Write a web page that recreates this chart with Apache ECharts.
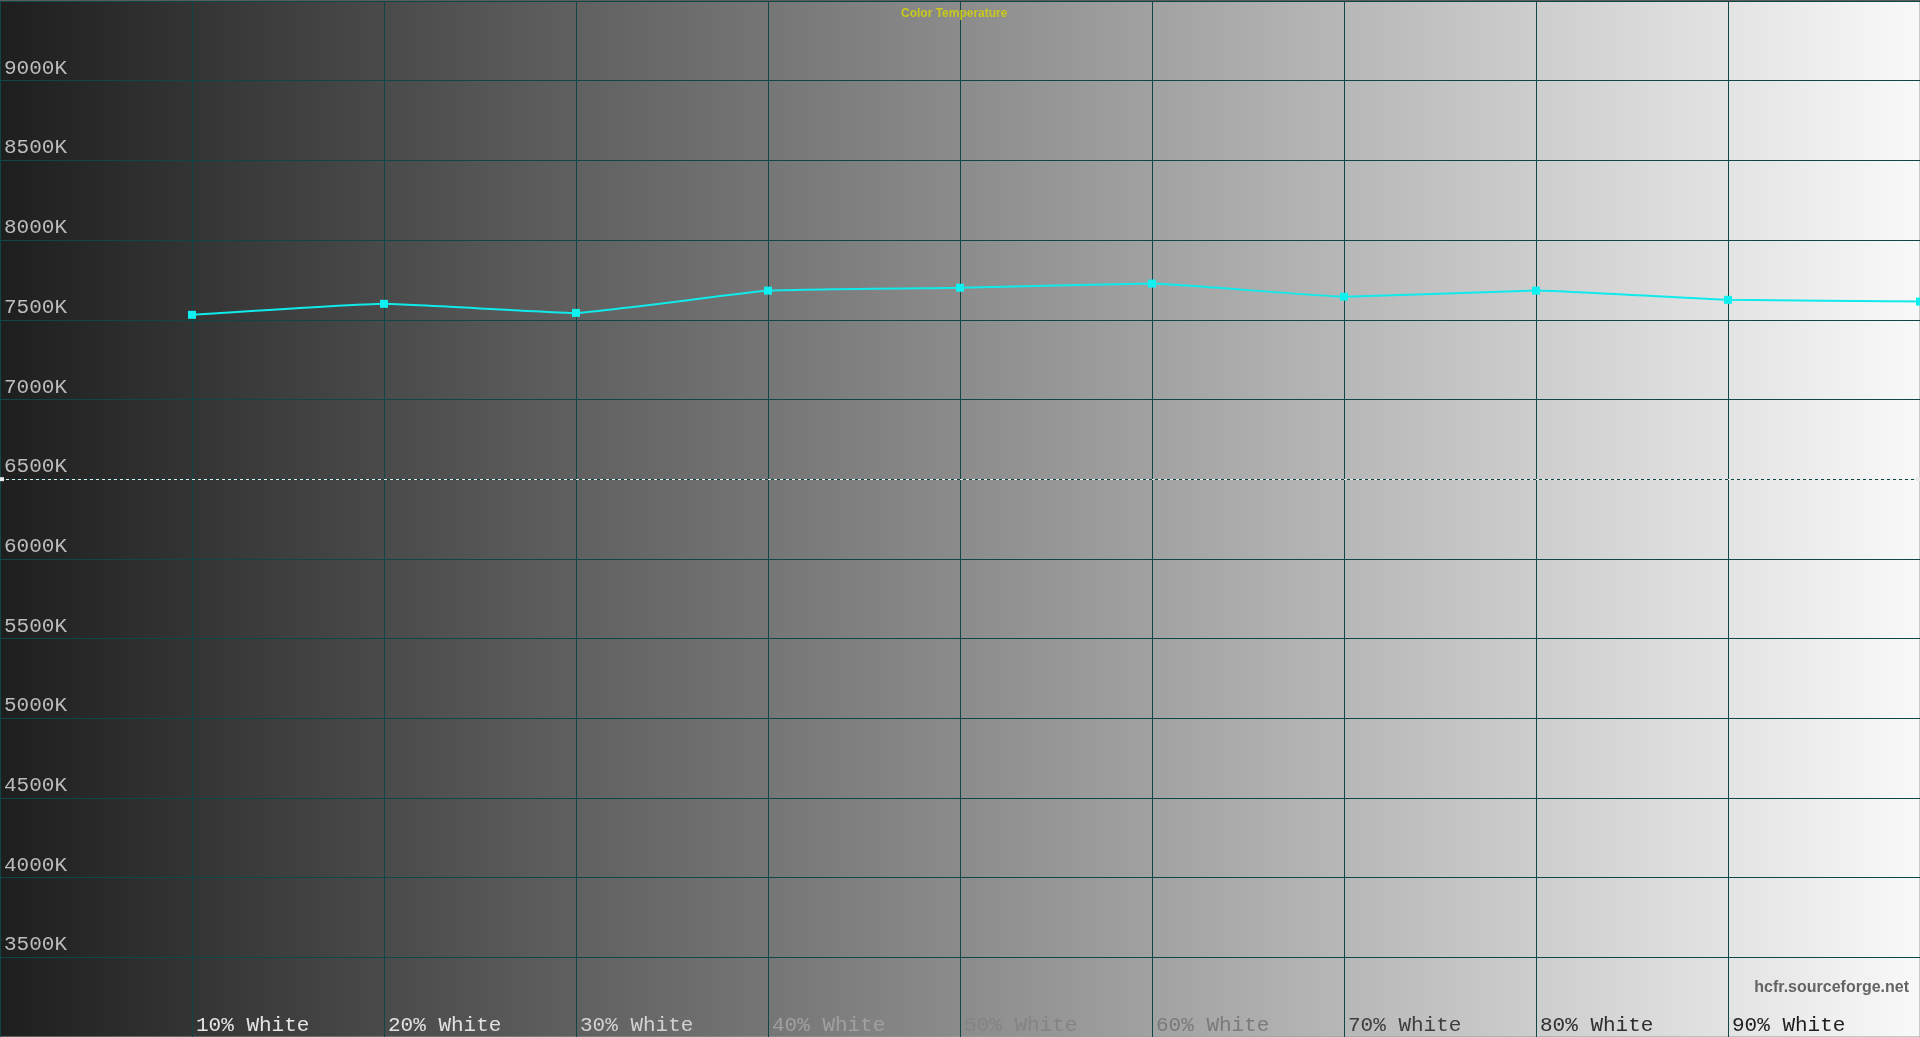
<!DOCTYPE html>
<html>
<head>
<meta charset="utf-8">
<title>Color Temperature</title>
<script src="https://cdn.jsdelivr.net/npm/echarts@6/dist/echarts.min.js"></script>
<style>
html, body { margin: 0; padding: 0; overflow: hidden; background: #1e1e1e; }
</style>
</head>
<body>
<div id="main" style="width:1920px;height:1037px"></div>
<script type="text/javascript">
var levels = [10, 20, 30, 40, 50, 60, 70, 80, 90, 100];
var colorTemp = [7531, 7600, 7543, 7683, 7701, 7727, 7645, 7683, 7625, 7614];
var targetTemp = 6500;

// label colours per tick, they fade against the grey background
var tickLevels = [10, 20, 30, 40, 50, 60, 70, 80, 90];
var tickColors = ['#e6e6e6', '#e2e2e2', '#d2d2d2', '#a0a0a0', '#848484', '#7a7a7a', '#3e3e3e', '#2e2e2e', '#1e1e1e'];

var points = [];
for (var i = 0; i < levels.length; i++) {
    points.push([levels[i], colorTemp[i]]);
}

var myChart = echarts.init(document.getElementById('main'));

var monoFont = "'Courier New', 'Liberation Mono', monospace";

option = {
    animation: false,
    title: {
        text: 'Color Temperature',
        left: 896,
        top: 3,
        textStyle: {
            color: '#c8c81e',
            fontSize: 12,
            fontWeight: 'bold',
            fontFamily: "Arial, 'Liberation Sans', sans-serif"
        }
    },
    graphic: [{
        type: 'text',
        right: 11,
        top: 980,
        style: {
            text: 'hcfr.sourceforge.net',
            fill: '#646464',
            fontSize: 16,
            fontWeight: 'bold',
            fontFamily: "Arial, 'Liberation Sans', sans-serif"
        }
    }],
    grid: {
        left: 0,
        right: 0,
        top: 1,
        bottom: -2,
        show: true,
        borderColor: '#9a9a9a',
        borderWidth: 1,
        backgroundColor: new echarts.graphic.LinearGradient(0, 0, 1, 0, [
            { offset: 0, color: '#1e1e1e' },
            { offset: 1, color: '#f9f9f9' }
        ])
    },
    xAxis: {
        type: 'value',
        min: 0,
        max: 100,
        interval: 10,
        axisLine: { show: false },
        axisTick: { show: false },
        splitLine: { show: true, lineStyle: { color: '#0f4646', width: 1 } },
        axisLabel: {
            inside: true,
            showMinLabel: false,
            showMaxLabel: false,
            align: 'left',
            verticalAlign: 'bottom',
            margin: 1,
            padding: [0, 0, 0, 4],
            fontSize: 21,
            fontFamily: monoFont,
            formatter: function (v) { return v + '% White'; },
            color: function (v) {
                var k = tickLevels.indexOf(+v);
                return k >= 0 ? tickColors[k] : '#888';
            }
        }
    },
    yAxis: {
        type: 'value',
        min: 3000,
        max: 9500,
        interval: 500,
        axisLine: { show: false },
        axisTick: { show: false },
        splitLine: { show: true, lineStyle: { color: '#0f4646', width: 1 } },
        axisLabel: {
            inside: true,
            showMinLabel: false,
            showMaxLabel: false,
            align: 'left',
            verticalAlign: 'bottom',
            margin: 4,
            padding: [0, 0, 2, 0],
            fontSize: 21,
            fontFamily: monoFont,
            color: '#bcbcbc',
            formatter: function (v) { return v + 'K'; }
        }
    },
    series: [{
        name: 'Color Temperature',
        type: 'line',
        data: points,
        smooth: 0.1,
        symbol: 'rect',
        symbolSize: 8,
        clip: false,
        lineStyle: { color: '#10eaea', width: 2 },
        itemStyle: { color: '#10f0f0' },
        markLine: {
            silent: true,
            symbol: ['rect', 'rect'],
            symbolSize: [4, 8],
            label: { show: false },
            lineStyle: { color: '#e8e8e8', type: [3, 3], width: 1 },
            itemStyle: { color: '#f0f0f0' },
            data: [{ yAxis: targetTemp }]
        }
    }]
};

myChart.setOption(option);
</script>
</body>
</html>
